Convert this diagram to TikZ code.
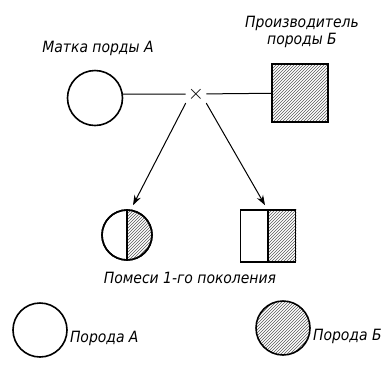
\documentclass[tikz,border=0pt]{standalone}
\usepackage{fontspec}
\setsansfont{DejaVu Sans Condensed}
\usepackage{tikz}
\usetikzlibrary{arrows.meta,patterns}

\begin{document}
\begin{tikzpicture}[x=1pt,y=-1pt,
   animal/.style={draw,line width=1.6pt,inner sep=0pt},
   female/.style={animal,circle,minimum size=55pt},
   male/.style={animal,rectangle,minimum width=56pt,minimum height=58pt},
   hatch/.style={pattern=north east lines,pattern color=black!65},
   lbl/.style={font=\sffamily\itshape\fontsize{15.5}{17}\selectfont,inner sep=1pt},
   link/.style={line width=1pt},
   arr/.style={line width=1pt,-{Stealth[length=10pt,width=7pt]}}
]
   \useasboundingbox (0,0) rectangle (390,365);

   % parents
   \node[female] (mother) at (95,98) {};
   \node[male,hatch] (sire) at (300,93) {};
   \node[font=\huge,inner sep=2pt] (cross) at (196,94) {$\times$};
   \node[lbl] (motherlbl) at (98,48) {Матка порды А};
   \node[lbl,align=center] (sirelbl) at (302,32) {Производитель\\породы Б};

   \draw[link] (mother.8) -- (cross.west);
   \draw[link] (cross) -- (sire);

   % first generation
   \node[female,minimum size=50pt] (hybC) at (127,235) {};
   \node[male,minimum width=55pt,minimum height=52pt] (hybS) at (268,236) {};
   \fill[hatch] (hybC.north) arc[start angle=90,end angle=-90,radius=25pt] -- cycle;
   \fill[hatch] (hybS.north) rectangle (hybS.south east);
   \draw[line width=1.6pt] (hybC.north) -- (hybC.south);
   \draw[line width=1.3pt] (hybS.north) -- (hybS.south);
   \node[female,minimum size=50pt] at (hybC) {};
   \node[male,minimum width=55pt,minimum height=52pt] at (hybS) {};
   \node[lbl] (hyblbl) at (190,278) {Помеси 1-го поколения};

   \draw[arr] (cross.south west) -- ([shift={(6,-4)}]hybC.north);
   \draw[arr] (cross.south east) -- ([shift={(-3,-4)}]hybS.north);

   % legend
   \node[female,minimum size=54pt] (legA) at (40,330) {};
   \node[female,minimum size=54pt,hatch] (legB) at (283,328) {};
   \node[lbl,anchor=west] (legAlbl) at ([xshift=1pt,yshift=-8pt]legA.east) {Порода А};
   \node[lbl,anchor=west] (legBlbl) at ([xshift=1pt,yshift=-8pt]legB.east) {Порода Б};
\end{tikzpicture}
\end{document}
